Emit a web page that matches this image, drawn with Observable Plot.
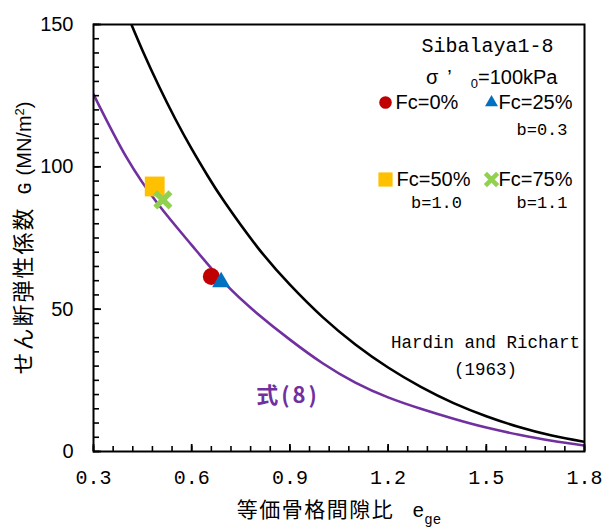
<!DOCTYPE html>
<html><head><meta charset="utf-8">
<script src="https://cdn.jsdelivr.net/npm/d3@7"></script>
<script src="https://cdn.jsdelivr.net/npm/@observablehq/plot@0.6"></script>
<style>body{margin:0;background:#fff} #chart{width:604px;height:530px}</style>
</head><body><div id="chart"></div>
<script>
// Hardin and Richart (1963) curve
const eHR = [0.41,0.45,0.5,0.55,0.6,0.65,0.7,0.8,0.9,1.0,1.1,1.2,1.3,1.4,1.5,1.6,1.7,1.8];
const gHR = [151.6,140.8,128.3,116.8,106.3,96.6,87.7,71.9,58.6,47.2,37.6,29.5,22.7,17.0,12.4,8.6,5.6,3.4];
// 式(8) curve
const eEq8 = [0.3,0.4,0.5,0.6,0.7,0.8,0.9,1.0,1.1,1.2,1.3,1.4,1.5,1.6,1.7,1.8];
const gEq8 = [125.5,103.5,86.5,72.5,59.2,48.5,39.3,31.0,24.2,19.0,15.0,11.5,8.4,5.9,3.8,2.1];
// test samples
const sampleNames = ["Fc=0%","Fc=25%","Fc=50%","Fc=75%"];
const sampleE = [0.660,0.690,0.487,0.512];
const sampleG = [61.5,59.5,93.1,88.4];
const sampleB = ["", "b=0.3", "b=1.0", "b=1.1"];
// ticks
const xTicks = [0.3,0.6,0.9,1.2,1.5,1.8];
const xMinor = d3.range(0.3, 1.8001, 0.06);
const yTicks = [0,50,100,150];
const yMinor = d3.range(0, 150.001, 5);

const styles = [
  {symbol:"circle", color:"#C00000", r:8.5, lr:6.3},
  {symbol:"triangle", color:"#0070C0", r:6.7, lr:4.8},
  {symbol:"square", color:"#FFC000", r:11.2, lr:8.0},
  {symbol:"times", color:"#92D050", r:7.0, lr:5.6}
];

const W=604, H=530, ML=93, MR=20, MT=24, MB=79;
const FW = W-ML-MR, FH = H-MT-MB;
const hr = eHR.map((e,i)=>({e, g:gHR[i]}));
const eq8 = eEq8.map((e,i)=>({e, g:gEq8[i]}));
const samples = sampleNames.map((n,i)=>({name:n, e:sampleE[i], g:sampleG[i], b:sampleB[i], k:i}));

const MONO = "Liberation Mono, DejaVu Sans Mono, monospace";
const SANS = "Liberation Sans, Arial, sans-serif";
const CJK = "Noto Sans CJK JP, sans-serif";

function sampleDot(i){
  const s = styles[i];
  const o = {x:"e", y:"g", symbol:s.symbol, r:s.r};
  if (s.symbol === "times") { o.stroke = s.color; o.strokeWidth = 5.5; }
  else { o.fill = s.color; o.stroke = "none"; }
  return Plot.dot(samples.filter(d=>d.k===i), o);
}
// legend layout (pixel offsets from top-right of frame)
const legPos = [
  {mx:-199, my:78, tx:-189, ta:"start", bx:0, ba:"end"},
  {mx:-93, my:78, tx:-12, ta:"end", bx:-17, ba:"end"},
  {mx:-199, my:155, tx:-188, ta:"start", bx:-148, ba:"middle"},
  {mx:-93, my:155, tx:-12, ta:"end", bx:-17, ba:"end"}
];
function txt(s, o){ return Plot.text([s], {text:d=>d, lineAnchor:"middle", fill:"black", ...o}); }
function legendMarks(i){
  const s = styles[i], p = legPos[i], d = samples[i];
  const o = {frameAnchor:"top-right", dx:p.mx, dy:p.my, symbol:s.symbol, r:s.lr};
  if (s.symbol === "times") { o.stroke = s.color; o.strokeWidth = 4.5; }
  else { o.fill = s.color; o.stroke = "none"; }
  const marks = [
    Plot.dot([d], o),
    txt(d.name, {frameAnchor:"top-right", dx:p.tx, dy:p.my, textAnchor:p.ta, fontSize:20, fontFamily:SANS})
  ];
  if (d.b) marks.push(txt(d.b, {frameAnchor:"top-right", dx:p.bx, dy:p.my+(i<2?27:23), textAnchor:p.ba, fontSize:17, fontFamily:MONO}));
  return marks;
}

const plot = Plot.plot({
  width:W, height:H, marginLeft:ML, marginRight:MR, marginTop:MT, marginBottom:MB,
  x:{domain:[0.3,1.8]}, y:{domain:[0,150]},
  style:{fontFamily:SANS, background:"white", color:"black", overflow:"visible"},
  marks:[
    Plot.line(hr, {x:"e", y:"g", curve:"natural", stroke:"black", strokeWidth:2.6, clip:true}),
    Plot.line(eq8, {x:"e", y:"g", curve:"natural", stroke:"#7030A0", strokeWidth:2.6, clip:true}),
    sampleDot(0), sampleDot(1), sampleDot(2), sampleDot(3),
    Plot.tickX(xMinor, {x:d=>d, insetTop:FH-5, stroke:"black", strokeWidth:1.6}),
    Plot.tickX(xTicks, {x:d=>d, insetTop:FH-7, stroke:"black", strokeWidth:1.8}),
    Plot.tickY(yMinor, {y:d=>d, insetRight:FW-6, stroke:"black", strokeWidth:1.6}),
    Plot.tickY(yTicks, {y:d=>d, insetRight:FW-8, stroke:"black", strokeWidth:1.8}),
    Plot.frame({stroke:"black", strokeWidth:2}),
    Plot.axisX({ticks:xTicks, tickSize:0, tickPadding:18, tickFormat:".1f", label:null, fontSize:20, fontFamily:MONO}),
    Plot.axisY({ticks:yTicks, tickSize:0, tickPadding:20, label:null, fontSize:20, fontFamily:SANS}),
    txt("Sibalaya1-8", {frameAnchor:"top-right", dx:-31, dy:21, textAnchor:"end", fontSize:20, fontFamily:MONO}),
    txt("σ’₀=100kPa", {frameAnchor:"top-right", dx:-27, dy:53, textAnchor:"end", fontSize:20, fontFamily:SANS}),
    ...legendMarks(0), ...legendMarks(1), ...legendMarks(2), ...legendMarks(3),
    txt("Hardin and Richart", {frameAnchor:"top-right", dx:-99, dy:318, textAnchor:"middle", fontSize:17.5, fontFamily:MONO}),
    txt("(1963)", {frameAnchor:"top-right", dx:-99, dy:345, textAnchor:"middle", fontSize:17.5, fontFamily:MONO}),
    txt("式(8)", {frameAnchor:"top-left", dx:194.5, dy:371, textAnchor:"middle", fontSize:22, fontWeight:"bold", fontFamily:CJK, fill:"#7030A0"}),
    txt("等価骨格間隙比 e_ge", {frameAnchor:"bottom", dy:59, textAnchor:"middle", fontSize:21, fontFamily:CJK}),
    txt("せん断弾性係数 G (MN/m2)", {frameAnchor:"left", dx:-70, rotate:-90, textAnchor:"middle", fontSize:22, fontFamily:CJK})
  ]
});

d3.select(plot).selectAll("text").each(function(){
  const t = this.textContent, sel = d3.select(this);
  if (t === "σ’₀=100kPa") {
    sel.text(null);
    sel.append("tspan").text("σ");
    sel.append("tspan").attr("dx", 9).text("’");
    sel.append("tspan").attr("dx", 19).attr("dy", 4).attr("font-size", 13).text("0");
    sel.append("tspan").attr("dy", -4).text("=100kPa");
  } else if (t === "等価骨格間隙比 e_ge") {
    sel.text(null);
    sel.append("tspan").attr("letter-spacing", 1.5).text("等価骨格間隙比");
    sel.append("tspan").attr("dx", 18).attr("font-family", MONO).attr("font-size", 20).text("e");
    sel.append("tspan").attr("dy", 7).attr("font-family", MONO).attr("font-size", 14).text("ge");
  } else if (t === "せん断弾性係数 G (MN/m2)") {
    sel.text(null);
    sel.append("tspan").attr("letter-spacing", 2).text("せん断弾性係数");
    sel.append("tspan").attr("dx", 12).attr("font-family", MONO).attr("font-size", 20).text("G");
    sel.append("tspan").attr("dx", 7).attr("font-family", SANS).attr("font-size", 20).text("(MN/m");
    sel.append("tspan").attr("dy", -7).attr("font-family", SANS).attr("font-size", 13).text("2");
    sel.append("tspan").attr("dy", 7).attr("font-family", SANS).attr("font-size", 20).text(")");
  } else if (t === "式(8)") {
    sel.attr("letter-spacing", 3);
  }
});

document.getElementById("chart").appendChild(plot);
</script>
</body></html>
